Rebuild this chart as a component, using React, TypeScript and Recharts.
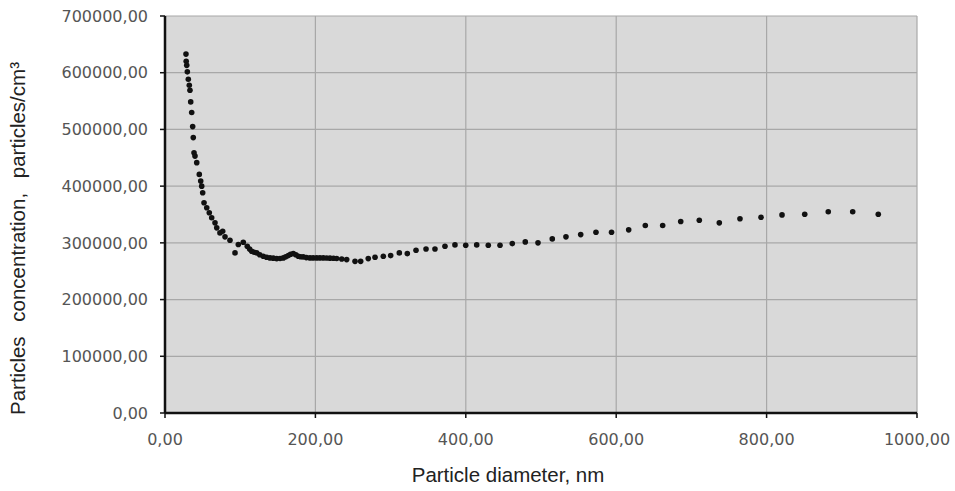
import { CartesianGrid, Scatter, ScatterChart, XAxis, YAxis } from "recharts";

// particle diameter, nm
const diameters = [
  27.9, 28.2, 28.9, 29.7, 31.0, 32.3, 33.2, 34.2, 35.5, 36.8, 37.6, 38.6, 39.9, 42.2, 45.6, 47.5, 48.8,
  50.1, 51.9, 55.5, 58.9, 62.1, 66.5, 68.8, 73.1, 76.7, 79.8, 86.4, 93.1, 97.5, 104.1, 109.4, 112.5,
  115.3, 118.5, 121.9, 126, 130.7, 135, 139.6, 144, 148.5, 153, 157.3, 160.5, 164, 167, 170.6, 174,
  177.3, 180.5, 183.9, 188, 192.8, 197, 201.7, 206, 210.5, 215, 219.4, 224, 228.3, 235, 241.6, 252.7,
  260.2, 270.3, 279.3, 290.3, 300.1, 311.6, 322.2, 333.8, 347.1, 359, 372.3, 385.6, 399.9, 414.5,
  429.9, 445.5, 461.8, 479.1, 496, 515, 533.2, 552.8, 573.1, 593.8, 616.6, 638.7, 661.8, 685.8, 710.5,
  737.1, 764.6, 792.6, 820.5, 850.7, 882, 914.5, 948.5,
];

// particles/cm3
const concentrations = [
  632800, 620000, 613000, 601500, 588600, 578000, 569000, 548500, 529800, 505000, 485600, 459000,
  453000, 441400, 420700, 408900, 400000, 388400, 370700, 361800, 353000, 344200, 335300, 326500,
  317600, 320500, 310600, 304600, 282300, 297000, 301000, 294000, 289000, 285100, 283500, 282300,
  279000, 276300, 274500, 273500, 273000, 272200, 272500, 273500, 275500, 277500, 280000, 281000,
  279000, 276300, 275500, 275200, 274000, 273500, 273500, 273500, 273500, 273500, 273200, 273000,
  272800, 272500, 271600, 270500, 267400, 267400, 272200, 274500, 276300, 277500, 282300, 281000,
  286900, 289300, 289300, 294000, 296400, 295700, 296400, 295700, 295700, 298700, 301700, 300000,
  307000, 310600, 314600, 318700, 318700, 322900, 330500, 330500, 337600, 339900, 335300, 342400,
  345200, 349300, 350500, 354800, 354800, 350500,
];

const xTicks = [0, 200, 400, 600, 800, 1000];
const yTicks = [0, 100000, 200000, 300000, 400000, 500000, 600000, 700000];

const points = diameters.map((d, i) => ({ d, c: concentrations[i] }));

const fmt = (v: number) => v.toFixed(2).replace(".", ",");

const tickStyle = { fontSize: 16, fill: "#555", fontFamily: "DejaVu Sans" };
const titleFont = "Liberation Sans, Arial, sans-serif";

function Dot(props: any) {
  return <circle cx={props.cx} cy={props.cy} r={2.8} fill="#111" />;
}

function YTitle({ viewBox }: any) {
  const x = 17;
  const y = viewBox.y + viewBox.height / 2 + 24;
  return (
    <text
      x={x}
      y={y}
      transform={`rotate(-90, ${x}, ${y})`}
      textAnchor="middle"
      dominantBaseline="central"
      fontSize={20.5}
      fill="#222"
      fontFamily={titleFont}
      style={{ wordSpacing: 9 }}
    >
      Particles concentration, particles/cm³
    </text>
  );
}

export default function App() {
  return (
    <div style={{ position: "absolute", left: 0, top: 0, background: "#fff" }}>
      <ScatterChart width={955} height={491} margin={{ top: 16, right: 38, bottom: 0, left: 0 }}>
        <CartesianGrid stroke="#a8a8a8" strokeWidth={1.2} fill="#d9d9d9" />
        <XAxis
          type="number"
          dataKey="d"
          domain={[0, 1000]}
          ticks={xTicks}
          tickFormatter={fmt}
          height={78}
          tickSize={5}
          tickMargin={16}
          tick={tickStyle}
          axisLine={{ stroke: "#111", strokeWidth: 2.5 }}
          tickLine={{ stroke: "#111", strokeWidth: 1.5 }}
          label={{
            value: "Particle diameter, nm",
            position: "insideBottom",
            offset: 9,
            dx: -33,
            fontSize: 20.5,
            fill: "#222",
            fontFamily: titleFont,
          }}
        />
        <YAxis
          type="number"
          dataKey="c"
          domain={[0, 700000]}
          ticks={yTicks}
          tickFormatter={fmt}
          width={165}
          tickSize={5}
          tickMargin={12}
          tick={tickStyle}
          axisLine={{ stroke: "#111", strokeWidth: 2.5 }}
          tickLine={{ stroke: "#111", strokeWidth: 1.5 }}
          label={<YTitle />}
        />
        <Scatter data={points} shape={<Dot />} isAnimationActive={false} />
      </ScatterChart>
    </div>
  );
}
